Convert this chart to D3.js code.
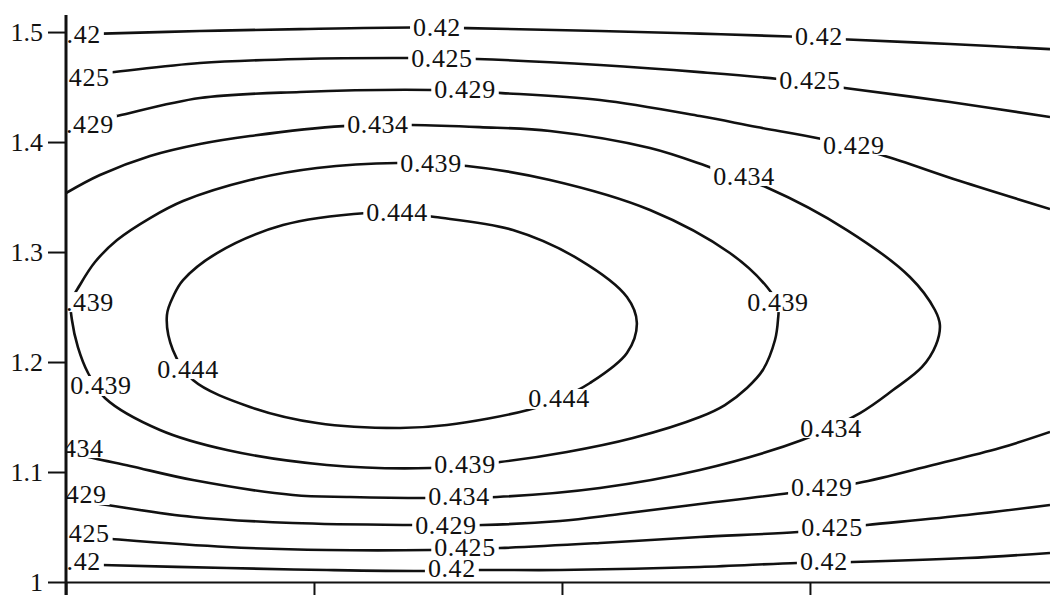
<!DOCTYPE html>
<html><head><meta charset="utf-8">
<script src="https://cdn.jsdelivr.net/npm/d3@7"></script>
<style>
body{margin:0;background:#fff;}
svg{display:block;}
text{font-family:"Liberation Serif","Times New Roman",serif;}
</style></head>
<body><svg id="chart" width="1050" height="595"></svg>
<script>
// ---- data (x in axis units, y in axis units) ----
const levels = [0.42, 0.425, 0.429, 0.434, 0.439, 0.444];
const yTicks = [1, 1.1, 1.2, 1.3, 1.4, 1.5];
const xTicks = [0, 1, 2, 3];

const c042Top = [[0,1.4982],[0.149,1.4986],[0.540,1.5009],[0.944,1.5027],[1.395,1.5041],[1.617,1.5036],[2.153,1.5009],[2.556,1.4986],[2.919,1.4959],[3.153,1.4932],[3.565,1.4891],[3.968,1.4845]];
const c0425Top = [[0,1.4591],[0.177,1.4632],[0.540,1.4718],[0.944,1.4755],[1.375,1.4764],[1.657,1.4755],[2.153,1.4700],[2.556,1.4636],[2.871,1.4573],[3.141,1.4491],[3.565,1.4364],[3.968,1.4227]];
const c0429Top = [[0,1.4127],[0.206,1.4236],[0.540,1.4400],[0.944,1.4455],[1.476,1.4473],[1.758,1.4445],[2.153,1.4382],[2.556,1.4236],[2.786,1.4136],[3.048,1.4027],[3.290,1.3882],[3.605,1.3645],[3.968,1.3391]];
const c0434 = [[0,1.3536],[0.137,1.3700],[0.339,1.3873],[0.540,1.3982],[0.742,1.4055],[1.117,1.4145],[1.395,1.4155],[1.669,1.4136],[1.952,1.4100],[2.355,1.3945],[2.605,1.3764],[2.831,1.3582],[3.149,1.3200],[3.403,1.2773],[3.504,1.2473],[3.524,1.2336],[3.508,1.2155],[3.452,1.1955],[3.335,1.1745],[3.202,1.1536],[2.968,1.1291],[2.556,1.1018],[2.153,1.0855],[1.738,1.0773],[1.456,1.0764],[1.145,1.0773],[0.915,1.0791],[0.512,1.0927],[0.258,1.1055],[0.109,1.1127],[0,1.1191]];
const c0439 = [[0.020,1.2545],[0.056,1.2700],[0.117,1.2909],[0.206,1.3109],[0.339,1.3309],[0.472,1.3464],[0.742,1.3655],[1.012,1.3764],[1.335,1.3809],[1.617,1.3782],[1.952,1.3655],[2.355,1.3382],[2.677,1.2991],[2.827,1.2682],[2.871,1.2518],[2.871,1.2382],[2.859,1.2200],[2.810,1.1927],[2.746,1.1764],[2.657,1.1609],[2.556,1.1500],[2.286,1.1309],[2.020,1.1182],[1.750,1.1091],[1.468,1.1036],[1.052,1.1064],[0.649,1.1200],[0.379,1.1382],[0.157,1.1673],[0.089,1.1900],[0.048,1.2136],[0.024,1.2382]];
const c0444 = [[1.335,1.3355],[1.488,1.3318],[1.802,1.3200],[2.073,1.2927],[2.262,1.2591],[2.302,1.2355],[2.262,1.2082],[2.113,1.1809],[1.988,1.1664],[1.863,1.1564],[1.536,1.1427],[1.347,1.1400],[1.012,1.1445],[0.742,1.1591],[0.512,1.1836],[0.431,1.2109],[0.407,1.2427],[0.435,1.2609],[0.472,1.2745],[0.609,1.2991],[0.875,1.3245],[1.214,1.3355]];
const c0429Bot = [[0,1.0764],[0.165,1.0700],[0.512,1.0591],[0.915,1.0536],[1.407,1.0518],[1.681,1.0518],[1.992,1.0555],[2.234,1.0618],[2.556,1.0709],[2.919,1.0809],[3.194,1.0900],[3.496,1.1064],[3.766,1.1218],[3.968,1.1364]];
const c0425Bot = [[0,1.0427],[0.185,1.0391],[0.649,1.0318],[1.052,1.0291],[1.468,1.0291],[1.750,1.0309],[2.153,1.0355],[2.556,1.0409],[2.952,1.0455],[3.230,1.0518],[3.633,1.0609],[3.968,1.0700]];
const c042Bot = [[0,1.0164],[0.145,1.0155],[0.649,1.0127],[1.052,1.0109],[1.456,1.0100],[1.669,1.0109],[1.992,1.0109],[2.556,1.0136],[2.948,1.0173],[3.173,1.0182],[3.633,1.0218],[3.968,1.0264]];

// label anchor points per level
const lab042 = [[0.044,1.4982],[1.496,1.5045],[3.036,1.4955],[0.044,1.0182],[1.556,1.0127],[3.056,1.0182]];
const lab0425 = [[0.052,1.4591],[1.516,1.4764],[3.000,1.4555],[0.052,1.0445],[1.609,1.0318],[3.089,1.0491]];
const lab0429 = [[0.069,1.4155],[1.609,1.4482],[3.177,1.3973],[0.040,1.0791],[1.532,1.0518],[3.048,1.0855]];
const lab0434 = [[1.258,1.4155],[2.734,1.3691],[3.085,1.1400],[1.585,1.0773],[0.028,1.1218]];
const lab0439 = [[1.472,1.3809],[2.871,1.2545],[1.609,1.1064],[0.069,1.2545],[0.141,1.1782]];
const lab0444 = [[1.335,1.3355],[0.492,1.1936],[1.988,1.1664]];

(function(){
const contours = [
  {pts:c042Top, closed:false}, {pts:c0425Top, closed:false}, {pts:c0429Top, closed:false},
  {pts:c0434, closed:false}, {pts:c0439, closed:true}, {pts:c0444, closed:true},
  {pts:c0429Bot, closed:false}, {pts:c0425Bot, closed:false}, {pts:c042Bot, closed:false}
];
const labelSets = [lab042, lab0425, lab0429, lab0434, lab0439, lab0444];

const pL = 66, pR = 1050, pT = 15, pB = 582;
const x = d3.scaleLinear().domain([0, 3.968]).range([pL, pR]);
const y = d3.scaleLinear().domain([1, 1.5155]).range([pB, pT]);

const svg = d3.select("#chart");
svg.append("defs").append("clipPath").attr("id","plot")
  .append("rect").attr("x",pL).attr("y",pT).attr("width",pR-pL).attr("height",pB-pT);

const plot = svg.append("g").attr("clip-path","url(#plot)");

const lineOpen = d3.line().x(d=>x(d[0])).y(d=>y(d[1])).curve(d3.curveCatmullRom.alpha(0.5));
const lineClosed = d3.line().x(d=>x(d[0])).y(d=>y(d[1])).curve(d3.curveCatmullRomClosed.alpha(0.5));

plot.selectAll("path.contour").data(contours).join("path")
  .attr("class","contour")
  .attr("d", d => (d.closed ? lineClosed : lineOpen)(d.pts))
  .attr("fill","none").attr("stroke","#111").attr("stroke-width",2.6);

const labelData = [];
labelSets.forEach((set,i) => set.forEach(p => labelData.push({x:p[0], y:p[1], t:String(levels[i])})));

const lg = plot.selectAll("g.lab").data(labelData).join("g").attr("class","lab")
  .attr("transform", d => `translate(${x(d.x)},${y(d.y)})`);
lg.append("text")
  .attr("text-anchor","middle").attr("dominant-baseline","central")
  .attr("font-size",26).attr("fill","#111").attr("letter-spacing","0.6px")
  .text(d=>d.t);
lg.each(function(){
  const g = d3.select(this);
  const bb = g.select("text").node().getBBox();
  g.insert("rect","text").attr("x",bb.x-3).attr("y",-10).attr("width",bb.width+6).attr("height",20).attr("fill","#fff");
});

const yAxis = svg.append("g").attr("transform",`translate(${pL},0)`)
  .call(d3.axisLeft(y).tickValues(yTicks).tickSize(18).tickPadding(5).tickFormat(d=>String(d)));
yAxis.select(".domain").remove();
yAxis.selectAll(".tick line").attr("stroke","#111").attr("stroke-width",2);
yAxis.selectAll(".tick text").attr("font-size",26).attr("fill","#111")
  .attr("font-family",'"Liberation Serif","Times New Roman",serif').attr("dy","0.34em");

const xAxis = svg.append("g").attr("transform",`translate(0,${pB})`)
  .call(d3.axisBottom(x).tickValues(xTicks).tickSize(14).tickFormat(""));
xAxis.select(".domain").remove();
xAxis.selectAll(".tick line").attr("stroke","#111").attr("stroke-width",2);

svg.append("line").attr("x1",pL).attr("x2",pR).attr("y1",pB+0.5).attr("y2",pB+0.5)
  .attr("stroke","#111").attr("stroke-width",2);
svg.append("line").attr("x1",pL).attr("x2",pL).attr("y1",pT).attr("y2",595)
  .attr("stroke","#111").attr("stroke-width",3);
})();
</script></body></html>
